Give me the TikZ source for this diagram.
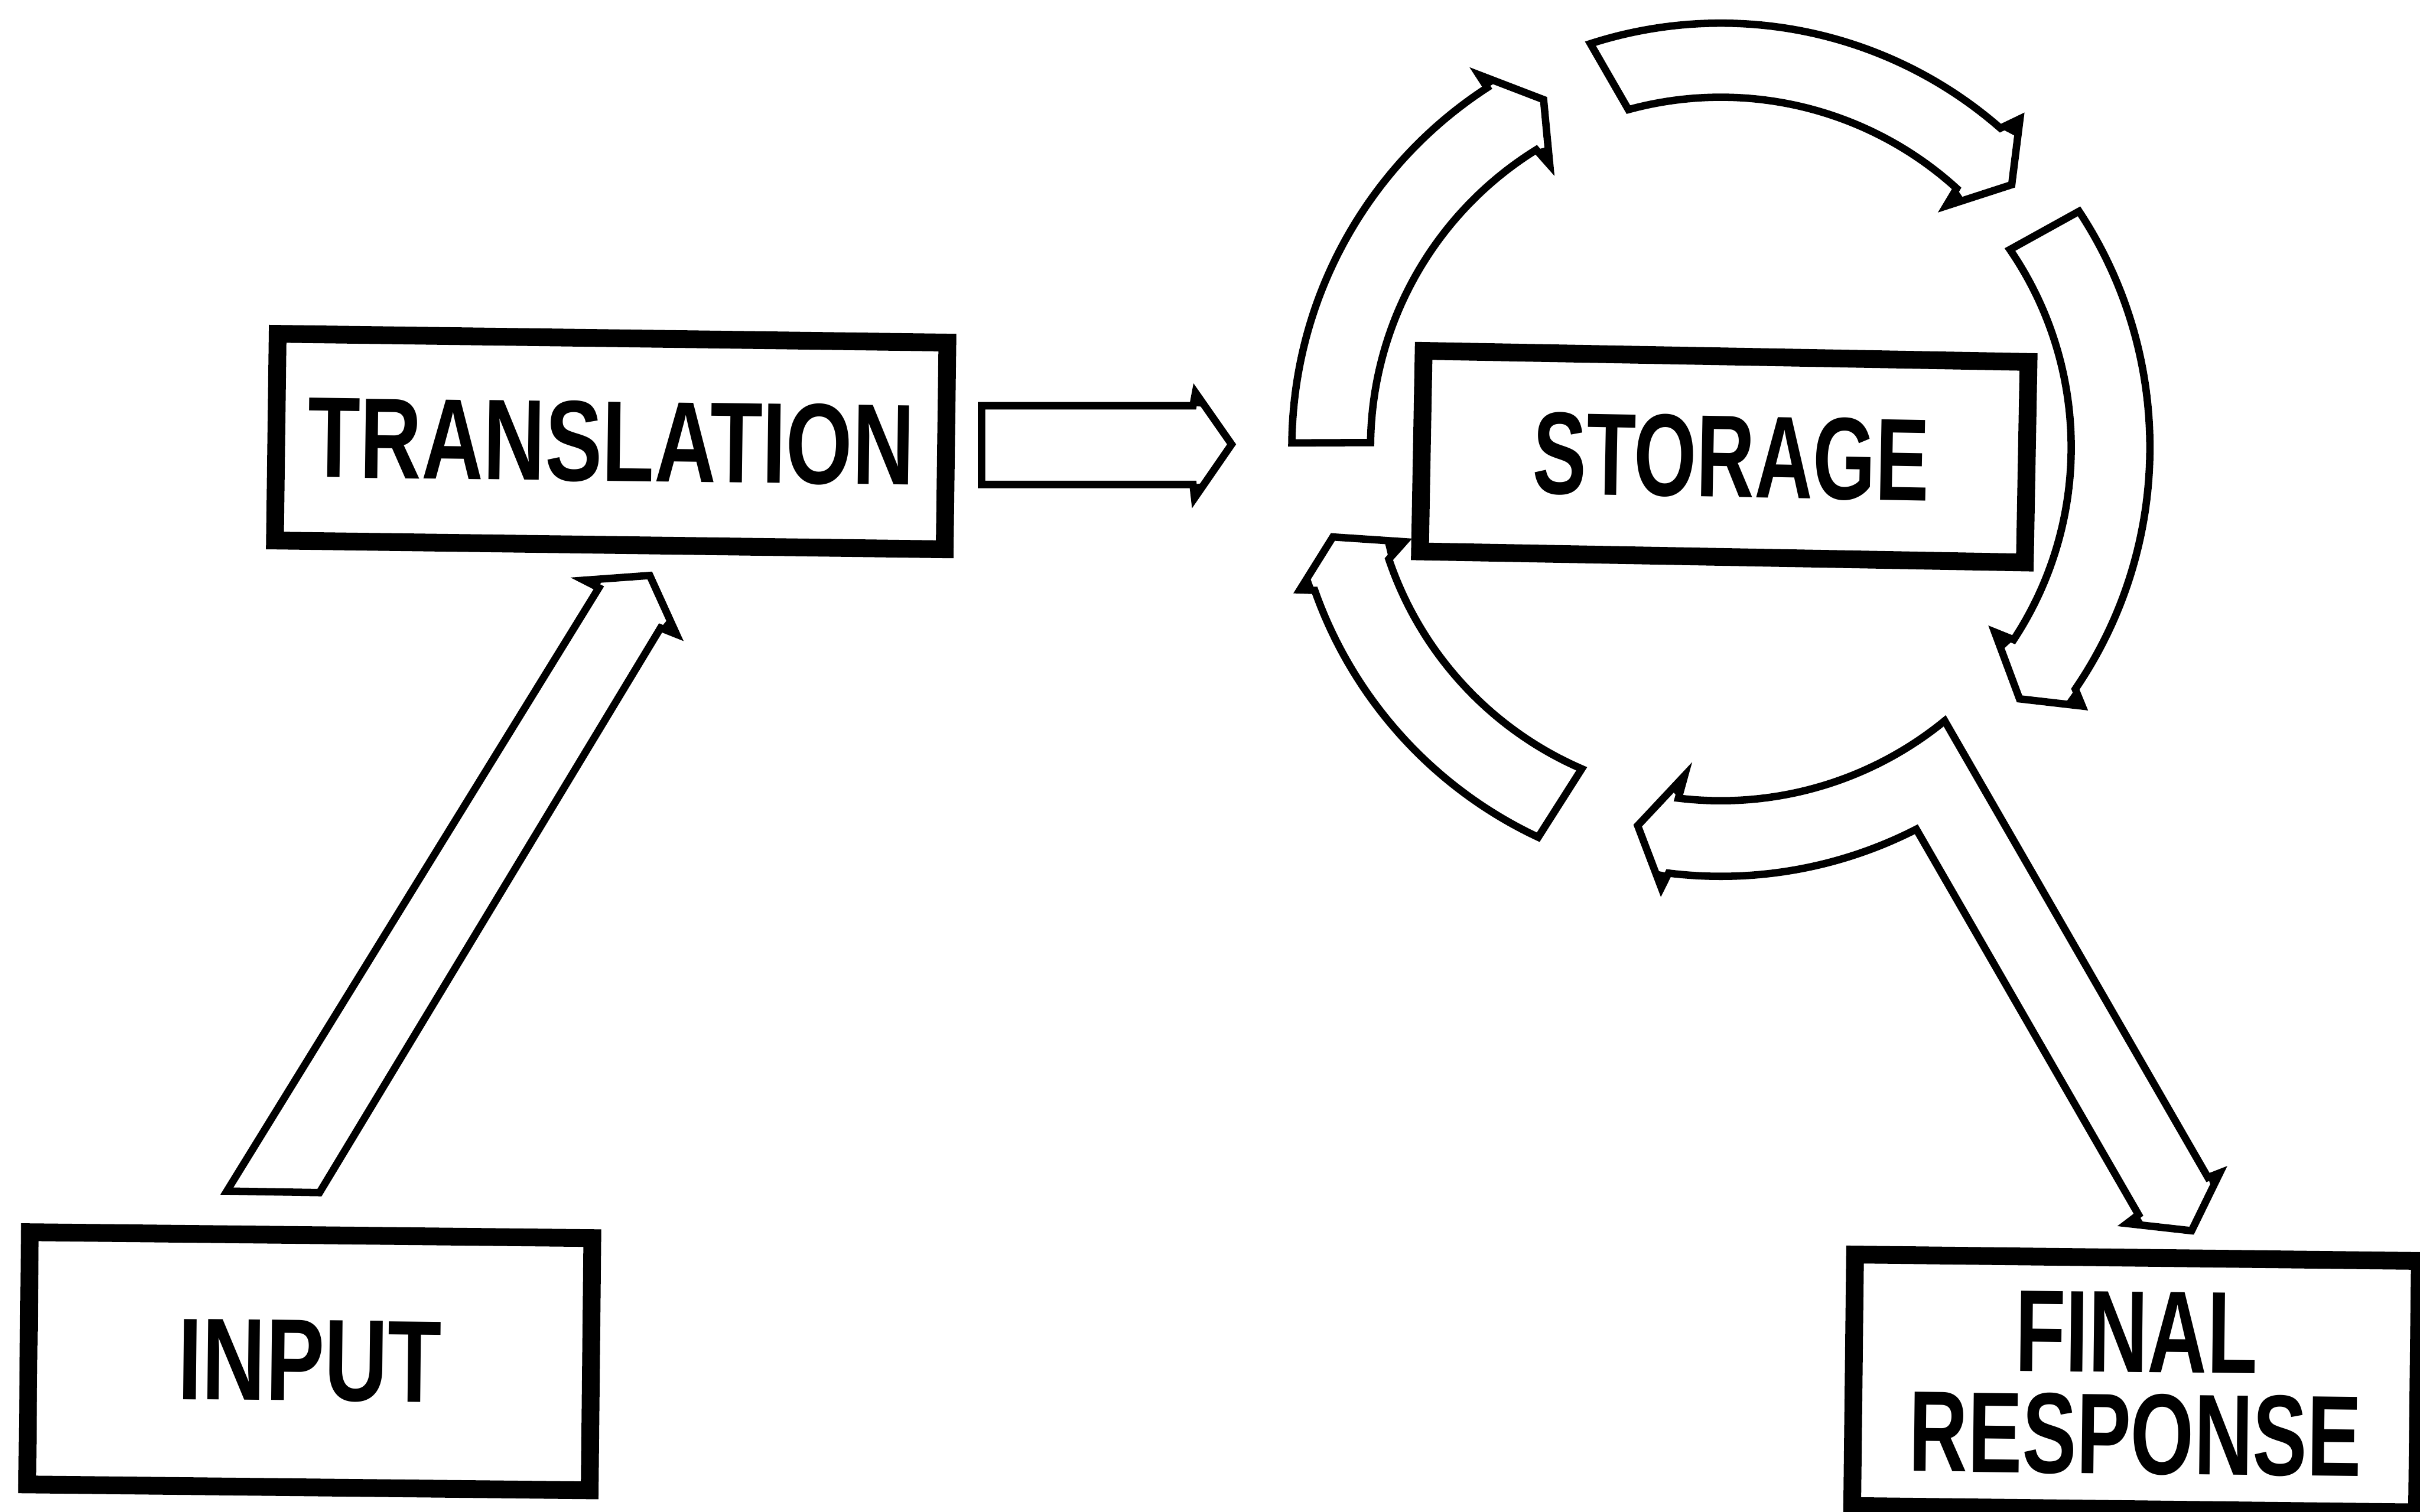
\documentclass[tikz,border=0pt]{standalone}
\usepackage{fontspec}
\setmainfont{Liberation Sans}
\usepackage{graphicx}
\usetikzlibrary{calc}
\newcommand\barbwedge[3]{\fill[line join=miter] (#1) -- (#2) -- ($(#2)!0.28!(#3)$) -- cycle;}
\newcommand\cyclearrow[8]{%
  \coordinate (no) at ($(C)+(#3:\ro)$);
  \coordinate (ni) at ($(C)+(#4:\ri)$);
  \coordinate (bo) at ($(C)+(#5:\rbo)$);
  \coordinate (bi) at ($(C)+(#6:\rbi)$);
  \coordinate (tp) at ($(C)+(#7:#8)$);
  \draw[blockarrow] ($(C)+(#1:\ro)$) arc[start angle=#1, end angle=#3, radius=\ro]
    -- (bo) -- (tp) -- (bi) -- (ni) arc[start angle=#4, end angle=#2, radius=\ri] -- cycle;
  \barbwedge{no}{bo}{tp}\barbwedge{ni}{bi}{tp}}
\begin{document}
\begin{tikzpicture}[x=0.1mm,y=0.1mm,
  box/.style={draw, line width=1.15mm, line join=miter, inner sep=0pt, font=\bfseries},
  blockarrow/.style={draw, line width=0.48mm, line join=miter, miter limit=20}]
\path[use as bounding box] (0,0) rectangle (1568,980);
\clip (0,0) rectangle (1568,980);
\def\ri{22.7mm}\def\rbo{28.8mm}\def\rbi{21.4mm}
\coordinate (C) at (1115,690);
% cycle arrows around STORAGE
\def\ro{27.8mm}\cyclearrow{179.4}{179.2}{123}{121.8}{123}{121.2}{117}{25.3mm}
\def\ro{27.5mm}\cyclearrow{107.9}{105.3}{48.8}{47.7}{47.7}{47}{42.1}{25.4mm}
\def\ro{27.8mm}\cyclearrow{33.4}{34.4}{-34.3}{-33.3}{-35.6}{-34}{-40.1}{25.3mm}
\def\ro{27.9mm}\cyclearrow{-115.1}{-113.4}{-160.6}{-161.4}{-161.3}{-163.4}{-167}{25.8mm}
% bottom arrow merging into the arrow to FINAL RESPONSE
\coordinate (J1) at ($(C)+(-50.7:22.9mm)$);
\coordinate (bNi) at ($(C)+(-96.9:22.9mm)$);
\coordinate (bBi) at ($(C)+(-96.3:21.4mm)$);
\coordinate (bTip) at ($(C)+(-102.4:25.1mm)$);
\coordinate (bBo) at ($(C)+(-97.7:28.8mm)$);
\coordinate (bNo) at ($(C)+(-97:27.8mm)$);
\coordinate (fLn) at (1385.6,192.7);
\coordinate (fLb) at (1378.1,187);
\coordinate (fTip) at (1420,182.3);
\coordinate (fRb) at (1438.3,219.8);
\coordinate (fRn) at (1430.6,216.8);
\draw[blockarrow] (J1) arc[start angle=-50.7, end angle=-96.9, radius=22.9mm]
  -- (bBi) -- (bTip) -- (bBo)
  -- (bNo) arc[start angle=-97, end angle=-62.9, radius=27.8mm]
  -- (fLn) -- (fLb) -- (fTip) -- (fRb) -- (fRn) -- cycle;
\barbwedge{bNi}{bBi}{bTip}\barbwedge{bNo}{bBo}{bTip}
\barbwedge{fLn}{fLb}{fTip}\barbwedge{fRn}{fRb}{fTip}
% TRANSLATION -> STORAGE
\coordinate (hT1) at (636,717);
\coordinate (hN1) at (773,717);
\coordinate (hB1) at (774.6,725.5);
\coordinate (hTip) at (798,692);
\coordinate (hB2) at (774,657.2);
\coordinate (hN2) at (773,666);
\coordinate (hT2) at (636,666);
\draw[blockarrow] (hT1) -- (hN1) -- (hB1) -- (hTip) -- (hB2) -- (hN2) -- (hT2) -- cycle;
\barbwedge{hN1}{hB1}{hTip}\barbwedge{hN2}{hB2}{hTip}
% INPUT -> TRANSLATION
\coordinate (iT1) at (147,208);
\coordinate (iNL) at (388,599);
\coordinate (iBL) at (378.4,603.9);
\coordinate (iTip) at (421,607);
\coordinate (iBR) at (438.3,568.9);
\coordinate (iNR) at (428,573);
\coordinate (iT2) at (207,207);
\draw[blockarrow] (iT1) -- (iNL) -- (iBL) -- (iTip) -- (iBR) -- (iNR) -- (iT2) -- cycle;
\barbwedge{iNL}{iBL}{iTip}\barbwedge{iNR}{iBR}{iTip}
% boxes
\node[box, minimum width=43.4mm, minimum height=13.4mm, rotate=-0.75] (trans) at (396,693.8)
  {\resizebox{39.3mm}{5.2mm}{TRANSLATION}};
\node[box, minimum width=39.2mm, minimum height=13mm, rotate=-1.05] (stor) at (1117.2,684)
  {\hspace*{0.9mm}\resizebox{25.7mm}{5.3mm}{STORAGE}};
\node[box, minimum width=36.45mm, minimum height=16.35mm, rotate=-0.6] (input) at (200.7,97.7)
  {\resizebox{17.1mm}{5.2mm}{INPUT}};
\node[box, minimum width=36.6mm, minimum height=16.3mm, rotate=-0.65, align=center,
  font=\bfseries\fontsize{10}{18.71}\selectfont] (final) at (1384,83.3)
  {\resizebox{15.7mm}{5.2mm}{FINAL}\\\resizebox{29.3mm}{5.2mm}{RESPONSE}};
\end{tikzpicture}
\end{document}
